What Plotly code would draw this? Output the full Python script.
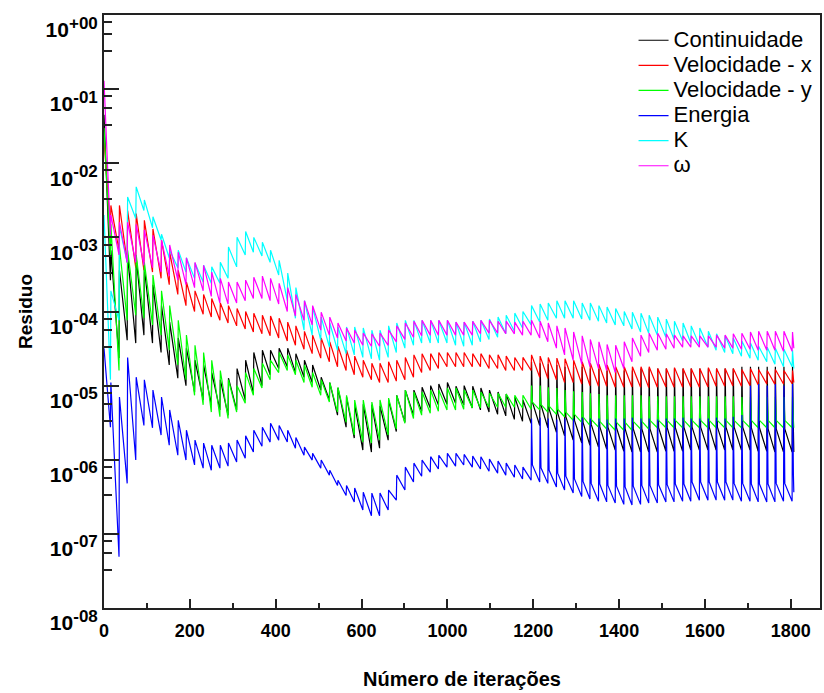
import plotly.graph_objects as go

# ---------------- data ----------------
# iteration at which each pseudo time-step starts (residual jump)
CYCLE_START = [16, 36, 55, 75, 94, 114, 134, 153, 173, 192,
               212, 232, 251, 271, 290, 310, 330, 349, 369, 388,
               408, 428, 447, 467, 486, 506, 526, 545, 565, 584,
               604, 624, 643, 663, 682, 702, 722, 741, 761, 780,
               800, 820, 839, 859, 878, 898, 918, 937, 957, 976,
               996, 1016, 1035, 1055, 1074, 1094, 1114, 1133, 1153, 1172,
               1192, 1212, 1231, 1251, 1270, 1290, 1310, 1329, 1349, 1368,
               1388, 1408, 1427, 1447, 1466, 1486, 1506, 1525, 1545, 1564,
               1584, 1604]
LATE_FROM = 50
END_ITER = 1607

# Continuidade
cont_start = [4.5e-2, 2.65e-4]
cont_peak = [6.7e-4, 3.6e-4, 5.8e-4, 5.3e-4, 3.9e-4, 2.3e-4, 1.2e-4, 7.2e-5, 4.4e-5, 3.2e-5,
             2.2e-5, 1.9e-5, 1.5e-5, 1.2e-5, 1.26e-5, 1.7e-5, 2.2e-5, 2.8e-5, 3.0e-5, 3.0e-5,
             3.2e-5, 3.2e-5, 2.7e-5, 2.2e-5, 1.9e-5, 1.3e-5, 1.1e-5, 9.3e-6, 7.0e-6, 5.5e-6,
             5.6e-6, 5.5e-6, 5.3e-6, 6.4e-6, 7.4e-6, 8.7e-6, 8.7e-6, 9.5e-6, 1.0e-5, 1.05e-5,
             1.1e-5, 9.8e-6, 1.0e-5, 9.8e-6, 9.3e-6, 8.7e-6, 8.2e-6, 7.7e-6, 7.0e-6, 6.4e-6,
             2.1e-5, 2.0e-5, 1.95e-5, 1.9e-5, 1.8e-5, 1.8e-5, 1.8e-5, 1.7e-5, 1.7e-5, 1.6e-5,
             1.6e-5, 1.6e-5, 1.6e-5, 1.7e-5, 1.7e-5, 1.7e-5, 1.7e-5, 1.7e-5, 1.7e-5, 1.7e-5,
             1.7e-5, 1.7e-5, 1.7e-5, 1.7e-5, 1.7e-5, 1.8e-5, 1.8e-5, 1.8e-5, 1.8e-5, 1.8e-5,
             1.8e-5, 1.8e-5]
cont_trough = [2.35e-5, 4.1e-5, 3.75e-5, 4.8e-5, 3.75e-5, 2.8e-5, 1.9e-5, 1.26e-5, 1.0e-5, 8.2e-6,
               6.4e-6, 5.5e-6, 4.7e-6, 4.0e-6, 4.7e-6, 6.4e-6, 7.9e-6, 1.0e-5, 1.4e-5, 1.7e-5,
               1.8e-5, 1.5e-5, 1.3e-5, 1.1e-5, 8.7e-6, 6.4e-6, 4.0e-6, 2.75e-6, 1.96e-6, 1.35e-6,
               1.27e-6, 1.43e-6, 1.84e-6, 2.4e-6, 3.2e-6, 4.0e-6, 4.5e-6, 5.0e-6, 5.5e-6, 5.6e-6,
               5.8e-6, 5.5e-6, 5.0e-6, 4.7e-6, 4.4e-6, 4.1e-6, 3.9e-6, 3.5e-6, 3.3e-6, 3.1e-6,
               2.9e-6, 2.7e-6, 2.35e-6, 2.1e-6, 1.84e-6, 1.68e-6, 1.57e-6, 1.48e-6, 1.39e-6, 1.35e-6,
               1.3e-6, 1.27e-6, 1.27e-6, 1.27e-6, 1.27e-6, 1.3e-6, 1.3e-6, 1.3e-6, 1.35e-6, 1.35e-6,
               1.35e-6, 1.35e-6, 1.35e-6, 1.35e-6, 1.35e-6, 1.35e-6, 1.3e-6, 1.3e-6, 1.27e-6, 1.27e-6,
               1.27e-6, 1.27e-6]
cont_drop = [6.0e-6, 5.5e-6, 4.8e-6, 4.25e-6, 3.8e-6, 3.4e-6, 3.2e-6, 3.0e-6, 2.8e-6, 2.75e-6,
             2.7e-6, 2.6e-6, 2.6e-6, 2.6e-6, 2.6e-6, 2.7e-6, 2.7e-6, 2.7e-6, 2.75e-6, 2.75e-6,
             2.75e-6, 2.75e-6, 2.75e-6, 2.75e-6, 2.75e-6, 2.75e-6, 2.7e-6, 2.7e-6, 2.6e-6, 2.6e-6,
             2.6e-6, 2.6e-6]

# Velocidade - x
velx_start = [2.1e-2, 1.26e-3]
velx_peak = [2.7e-3, 2.7e-3, 2.3e-3, 2.1e-3, 1.7e-3, 1.3e-3, 9.2e-4, 6.3e-4, 3.6e-4, 2.5e-4,
             1.9e-4, 1.7e-4, 1.5e-4, 1.3e-4, 1.2e-4, 1.1e-4, 1.0e-4, 9.5e-5, 8.9e-5, 8.7e-5,
             8.1e-5, 7.2e-5, 6.4e-5, 5.4e-5, 4.8e-5, 4.4e-5, 3.9e-5, 3.4e-5, 3.0e-5, 2.5e-5,
             2.2e-5, 2.0e-5, 2.0e-5, 2.1e-5, 2.2e-5, 2.4e-5, 2.6e-5, 2.7e-5, 2.7e-5, 2.8e-5,
             2.8e-5, 2.8e-5, 2.8e-5, 2.7e-5, 2.7e-5, 2.6e-5, 2.6e-5, 2.5e-5, 2.4e-5, 2.4e-5,
             2.6e-5, 2.5e-5, 2.4e-5, 2.35e-5, 2.3e-5, 2.2e-5, 2.1e-5, 2.0e-5, 1.95e-5, 1.9e-5,
             1.8e-5, 1.8e-5, 1.8e-5, 1.8e-5, 1.8e-5, 1.7e-5, 1.7e-5, 1.75e-5, 1.7e-5, 1.7e-5,
             1.7e-5, 1.75e-5, 1.7e-5, 1.7e-5, 1.7e-5, 1.65e-5, 1.7e-5, 1.65e-5, 1.6e-5, 1.65e-5,
             1.6e-5, 1.6e-5]
velx_trough = [6.7e-4, 4.6e-4, 3.9e-4, 3.6e-4, 3.4e-4, 2.8e-4, 2.3e-4, 1.7e-4, 1.2e-4, 1.0e-4,
               9.2e-5, 8.4e-5, 7.6e-5, 7.0e-5, 6.4e-5, 5.8e-5, 5.3e-5, 5.0e-5, 4.7e-5, 4.4e-5,
               4.0e-5, 3.5e-5, 3.1e-5, 2.7e-5, 2.35e-5, 2.1e-5, 1.8e-5, 1.6e-5, 1.4e-5, 1.3e-5,
               1.2e-5, 1.1e-5, 1.1e-5, 1.15e-5, 1.2e-5, 1.3e-5, 1.5e-5, 1.6e-5, 1.7e-5, 1.8e-5,
               1.8e-5, 1.8e-5, 1.8e-5, 1.8e-5, 1.7e-5, 1.7e-5, 1.6e-5, 1.6e-5, 1.6e-5, 1.6e-5,
               1.3e-5, 1.25e-5, 1.2e-5, 1.1e-5, 1.1e-5, 1.05e-5, 1.0e-5, 9.8e-6, 9.8e-6, 9.5e-6,
               9.5e-6, 9.6e-6, 9.5e-6, 9.4e-6, 9.5e-6, 9.6e-6, 9.5e-6, 9.5e-6, 9.6e-6, 9.5e-6,
               9.6e-6, 9.8e-6, 9.8e-6, 9.9e-6, 9.8e-6, 1.0e-5, 1.02e-5, 1.05e-5, 1.04e-5, 1.05e-5,
               1.06e-5, 1.1e-5]

# Velocidade - y
vely_start = [3.0e-2, 5.8e-4]
vely_peak = [1.5e-3, 7.4e-4, 6.7e-4, 5.8e-4, 4.6e-4, 3.1e-4, 1.9e-4, 1.2e-4, 7.6e-5, 4.8e-5,
             3.5e-5, 2.8e-5, 2.2e-5, 1.6e-5, 1.2e-5, 1.0e-5, 1.5e-5, 1.7e-5, 2.0e-5, 2.2e-5,
             2.8e-5, 2.6e-5, 2.2e-5, 1.9e-5, 1.5e-5, 1.2e-5, 1.1e-5, 9.5e-6, 7.4e-6, 6.4e-6,
             6.4e-6, 6.0e-6, 6.4e-6, 6.8e-6, 7.4e-6, 8.7e-6, 8.2e-6, 8.2e-6, 8.7e-6, 8.7e-6,
             9.3e-6, 9.3e-6, 8.7e-6, 8.7e-6, 8.2e-6, 7.9e-6, 7.9e-6, 7.7e-6, 7.4e-6, 7.4e-6,
             1.0e-5, 1.0e-5, 9.5e-6, 9.3e-6, 8.7e-6, 8.4e-6, 8.2e-6, 7.9e-6, 7.7e-6, 7.4e-6,
             7.4e-6, 7.4e-6, 7.4e-6, 7.4e-6, 7.2e-6, 7.2e-6, 7.2e-6, 7.2e-6, 7.2e-6, 7.2e-6,
             7.2e-6, 7.2e-6, 7.2e-6, 7.2e-6, 7.2e-6, 7.0e-6, 7.0e-6, 7.0e-6, 7.0e-6, 7.0e-6,
             7.0e-6, 7.0e-6]
vely_trough = [1.6e-5, 7.6e-5, 8.9e-5, 8.1e-5, 6.6e-5, 4.8e-5, 3.0e-5, 1.9e-5, 1.2e-5, 7.4e-6,
               5.5e-6, 4.4e-6, 3.8e-6, 3.6e-6, 4.4e-6, 5.8e-6, 7.4e-6, 9.3e-6, 1.2e-5, 1.5e-5,
               1.6e-5, 1.4e-5, 1.1e-5, 9.5e-6, 7.4e-6, 6.0e-6, 4.4e-6, 3.2e-6, 2.15e-6, 1.73e-6,
               1.68e-6, 1.84e-6, 2.15e-6, 2.6e-6, 3.1e-6, 3.6e-6, 4.0e-6, 4.25e-6, 4.5e-6, 4.7e-6,
               4.7e-6, 4.8e-6, 5.0e-6, 5.0e-6, 5.1e-6, 5.1e-6, 5.1e-6, 5.1e-6, 5.0e-6, 4.8e-6,
               4.7e-6, 4.4e-6, 4.1e-6, 3.8e-6, 3.4e-6, 3.2e-6, 2.9e-6, 2.75e-6, 2.6e-6, 2.5e-6,
               2.5e-6, 2.5e-6, 2.6e-6, 2.6e-6, 2.7e-6, 2.7e-6, 2.7e-6, 2.7e-6, 2.7e-6, 2.7e-6,
               2.7e-6, 2.7e-6, 2.7e-6, 2.7e-6, 2.7e-6, 2.7e-6, 2.7e-6, 2.7e-6, 2.7e-6, 2.7e-6,
               2.7e-6, 2.7e-6]
vely_drop = [6.0e-6, 5.6e-6, 5.3e-6, 4.8e-6, 4.4e-6, 4.1e-6, 3.8e-6, 3.5e-6, 3.3e-6, 3.2e-6,
             3.2e-6, 3.2e-6, 3.3e-6, 3.3e-6, 3.4e-6, 3.4e-6, 3.4e-6, 3.4e-6, 3.4e-6, 3.4e-6,
             3.4e-6, 3.4e-6, 3.4e-6, 3.4e-6, 3.4e-6, 3.4e-6, 3.4e-6, 3.4e-6, 3.4e-6, 3.4e-6,
             3.4e-6, 3.4e-6]

# Energia
ener_start = [3.2e-5, 2.75e-6]
ener_peak = [1.1e-5, 7.0e-6, 2.4e-5, 1.3e-5, 1.2e-5, 8.7e-6, 7.0e-6, 4.7e-6, 3.4e-6, 2.5e-6,
             1.84e-6, 1.68e-6, 1.57e-6, 1.57e-6, 1.68e-6, 1.84e-6, 2.1e-6, 2.5e-6, 2.75e-6, 3.1e-6,
             2.9e-6, 2.5e-6, 2.0e-6, 1.48e-6, 1.22e-6, 9.9e-7, 7.2e-7, 5.3e-7, 4.5e-7, 4.15e-7,
             3.65e-7, 3.55e-7, 3.55e-7, 3.9e-7, 6.2e-7, 7.95e-7, 9.0e-7, 9.9e-7, 1.1e-6, 1.15e-6,
             1.22e-6, 1.22e-6, 1.18e-6, 1.12e-6, 1.1e-6, 1.02e-6, 9.6e-7, 9.0e-7, 8.5e-7, 7.95e-7,
             3.6e-6, 3.7e-6, 3.6e-6, 3.5e-6, 3.6e-6, 3.6e-6, 3.7e-6, 3.6e-6, 3.6e-6, 3.5e-6,
             3.6e-6, 3.6e-6, 3.7e-6, 3.6e-6, 3.6e-6, 3.5e-6, 3.6e-6, 3.6e-6, 3.7e-6, 3.6e-6,
             3.6e-6, 3.6e-6, 3.7e-6, 3.6e-6, 3.8e-6, 4.0e-6, 1.0e-5, 1.05e-5, 1.0e-5, 1.05e-5,
             1.0e-5, 1.05e-5]
ener_trough = [4.9e-8, 4.8e-7, 9.9e-7, 2.9e-6, 2.7e-6, 2.15e-6, 1.57e-6, 1.15e-6, 9.9e-7, 8.5e-7,
               7.7e-7, 7.2e-7, 7.7e-7, 8.2e-7, 9.3e-7, 1.05e-6, 1.27e-6, 1.52e-6, 1.73e-6, 1.84e-6,
               1.73e-6, 1.43e-6, 1.15e-6, 9.9e-7, 7.7e-7, 6.2e-7, 4.5e-7, 3.3e-7, 2.7e-7, 2.1e-7,
               1.75e-7, 1.75e-7, 2.1e-7, 2.85e-7, 3.9e-7, 5.0e-7, 6.0e-7, 6.8e-7, 7.5e-7, 7.95e-7,
               8.2e-7, 8.5e-7, 7.95e-7, 7.5e-7, 7.0e-7, 6.6e-7, 6.2e-7, 5.8e-7, 5.5e-7, 5.3e-7,
               5.0e-7, 4.8e-7, 4.3e-7, 3.9e-7, 3.55e-7, 3.2e-7, 2.95e-7, 2.75e-7, 2.7e-7, 2.6e-7,
               2.5e-7, 2.45e-7, 2.5e-7, 2.6e-7, 2.6e-7, 2.7e-7, 2.7e-7, 2.75e-7, 2.75e-7, 2.85e-7,
               2.85e-7, 2.85e-7, 2.85e-7, 2.85e-7, 2.75e-7, 2.75e-7, 2.7e-7, 2.7e-7, 2.7e-7, 2.75e-7,
               2.75e-7, 3.65e-7]
ener_drop = [8.5e-7, 7.8e-7, 7.2e-7, 6.6e-7, 6.0e-7, 5.5e-7, 5.1e-7, 4.8e-7, 4.7e-7, 4.5e-7,
             4.4e-7, 4.3e-7, 4.4e-7, 4.5e-7, 4.5e-7, 4.6e-7, 4.6e-7, 4.7e-7, 4.7e-7, 5.0e-7,
             5.0e-7, 5.0e-7, 5.0e-7, 5.0e-7, 4.8e-7, 4.8e-7, 4.7e-7, 4.7e-7, 4.7e-7, 4.8e-7,
             4.8e-7, 6.4e-7]

# K
k_start = [2.0e-3, 1.2e-5]
k_peak = [1.9e-4, 1.4e-3, 3.5e-3, 4.8e-3, 3.2e-3, 1.9e-3, 1.1e-3, 6.7e-4, 6.7e-4, 5.3e-4,
          4.5e-4, 4.2e-4, 4.0e-4, 4.6e-4, 7.4e-4, 1.0e-3, 1.2e-3, 1.0e-3, 8.6e-4, 6.7e-4,
          4.9e-4, 3.3e-4, 2.1e-4, 1.4e-4, 1.15e-4, 8.4e-5, 7.0e-5, 6.2e-5, 6.2e-5, 6.2e-5,
          6.0e-5, 5.6e-5, 5.6e-5, 6.4e-5, 7.0e-5, 7.6e-5, 7.6e-5, 7.6e-5, 7.6e-5, 7.6e-5,
          7.6e-5, 7.2e-5, 7.2e-5, 7.4e-5, 7.6e-5, 7.9e-5, 8.4e-5, 8.9e-5, 9.5e-5, 1.0e-4,
          1.2e-4, 1.26e-4, 1.3e-4, 1.4e-4, 1.4e-4, 1.4e-4, 1.3e-4, 1.3e-4, 1.2e-4, 1.15e-4,
          1.1e-4, 1.0e-4, 9.8e-5, 9.5e-5, 8.9e-5, 8.4e-5, 7.9e-5, 7.4e-5, 7.0e-5, 6.4e-5,
          6.0e-5, 5.4e-5, 5.0e-5, 4.7e-5, 4.4e-5, 4.0e-5, 3.75e-5, 3.4e-5, 3.3e-5, 3.2e-5,
          3.1e-5, 3.0e-5]
k_trough = [7.6e-5, 4.6e-4, 1.8e-3, 2.3e-3, 1.35e-3, 9.2e-4, 5.3e-4, 3.9e-4, 3.4e-4, 2.8e-4,
            2.5e-4, 2.4e-4, 2.4e-4, 2.8e-4, 4.0e-4, 5.8e-4, 6.3e-4, 5.6e-4, 4.6e-4, 3.1e-4,
            1.4e-4, 8.1e-5, 5.6e-5, 4.8e-5, 4.1e-5, 3.3e-5, 3.0e-5, 2.7e-5, 2.6e-5, 2.4e-5,
            2.3e-5, 2.2e-5, 2.4e-5, 2.8e-5, 3.2e-5, 3.5e-5, 3.75e-5, 3.75e-5, 3.75e-5, 3.75e-5,
            3.5e-5, 3.4e-5, 3.5e-5, 3.9e-5, 4.2e-5, 4.5e-5, 5.0e-5, 5.4e-5, 6.0e-5, 6.6e-5,
            7.2e-5, 7.6e-5, 8.1e-5, 8.1e-5, 8.1e-5, 7.9e-5, 7.6e-5, 7.4e-5, 7.0e-5, 6.6e-5,
            6.4e-5, 5.8e-5, 5.3e-5, 5.1e-5, 4.8e-5, 4.5e-5, 4.2e-5, 4.0e-5, 3.75e-5, 3.5e-5,
            3.3e-5, 3.0e-5, 2.8e-5, 2.7e-5, 2.5e-5, 2.35e-5, 2.2e-5, 2.1e-5, 1.95e-5, 1.8e-5,
            1.8e-5, 1.7e-5]

# omega
w_start = [1.3e-1, 1.07e-3]
w_peak = [2.0e-3, 1.6e-3, 1.6e-3, 1.5e-3, 1.26e-3, 1.07e-3, 9.2e-4, 7.9e-4, 6.3e-4, 5.3e-4,
          4.6e-4, 4.2e-4, 3.4e-4, 2.8e-4, 2.5e-4, 2.5e-4, 2.65e-4, 2.9e-4, 3.0e-4, 2.8e-4,
          2.4e-4, 2.1e-4, 1.7e-4, 1.4e-4, 1.2e-4, 9.8e-5, 8.4e-5, 7.0e-5, 6.0e-5, 5.6e-5,
          5.1e-5, 5.0e-5, 5.1e-5, 5.6e-5, 6.4e-5, 7.0e-5, 7.4e-5, 7.6e-5, 7.6e-5, 7.6e-5,
          7.6e-5, 7.2e-5, 7.2e-5, 7.4e-5, 7.6e-5, 7.6e-5, 7.4e-5, 7.4e-5, 7.2e-5, 7.4e-5,
          7.6e-5, 7.4e-5, 7.0e-5, 6.4e-5, 6.0e-5, 5.3e-5, 4.7e-5, 4.2e-5, 3.9e-5, 3.6e-5,
          3.5e-5, 3.9e-5, 4.4e-5, 4.8e-5, 5.1e-5, 5.1e-5, 5.0e-5, 4.8e-5, 4.7e-5, 4.7e-5,
          4.7e-5, 4.7e-5, 4.8e-5, 4.8e-5, 5.0e-5, 5.1e-5, 5.3e-5, 5.4e-5, 5.4e-5, 5.4e-5,
          5.4e-5, 5.3e-5]
w_trough = [5.8e-4, 4.6e-4, 4.6e-4, 4.2e-4, 3.9e-4, 3.4e-4, 3.0e-4, 2.65e-4, 2.3e-4, 2.1e-4,
            1.9e-4, 1.6e-4, 1.3e-4, 1.26e-4, 1.3e-4, 1.4e-4, 1.5e-4, 1.5e-4, 1.4e-4, 1.26e-4,
            1.0e-4, 8.7e-5, 7.6e-5, 6.6e-5, 5.6e-5, 4.8e-5, 4.4e-5, 4.0e-5, 3.75e-5, 3.5e-5,
            3.4e-5, 3.4e-5, 3.5e-5, 3.9e-5, 4.2e-5, 4.5e-5, 4.7e-5, 4.8e-5, 4.8e-5, 4.8e-5,
            4.8e-5, 4.8e-5, 4.8e-5, 5.0e-5, 5.1e-5, 5.1e-5, 5.0e-5, 5.0e-5, 4.8e-5, 4.8e-5,
            4.4e-5, 3.9e-5, 3.2e-5, 2.6e-5, 2.2e-5, 1.95e-5, 1.8e-5, 1.7e-5, 1.6e-5, 1.5e-5,
            1.7e-5, 2.1e-5, 2.5e-5, 2.8e-5, 3.0e-5, 3.1e-5, 3.2e-5, 3.3e-5, 3.3e-5, 3.3e-5,
            3.3e-5, 3.3e-5, 3.2e-5, 3.2e-5, 3.1e-5, 3.1e-5, 3.0e-5, 3.0e-5, 3.0e-5, 2.9e-5,
            2.9e-5, 3.2e-5]

SERIES_NAMES = ["Continuidade", "Velocidade - x", "Velocidade - y", "Energia", "K", "\u03c9"]
SERIES_COLORS = ["#000000", "#ff0000", "#00ff00", "#0000ff", "#00ffff", "#ff00ff"]

X_TICK_POS = [0, 200, 400, 600, 800, 1000, 1200, 1400, 1600]
X_TICK_TEXT = ["0", "200", "400", "600", "1000", "1200", "1400", "1600", "1800"]
X_MINOR_POS = [100, 300, 500, 700, 900, 1100, 1300, 1500]
Y_TICK_VALS = [1e0, 1e-1, 1e-2, 1e-3, 1e-4, 1e-5, 1e-6, 1e-7, 1e-8]
Y_TICK_EXP = ["+00", "-01", "-02", "-03", "-04", "-05", "-06", "-07", "-08"]
Y_MINOR_FACTORS = [0.8, 0.56, 0.33]


def series_xy(start, peak, trough, drop=None):
    xs = [0, CYCLE_START[0] - 1]
    ys = list(start)
    n = len(CYCLE_START)
    for k, c in enumerate(CYCLE_START):
        xs.append(c)
        ys.append(peak[k])
        if drop is not None and k >= LATE_FROM:
            xs.append(c + 2)
            ys.append(drop[k - LATE_FROM])
        xs.append(CYCLE_START[k + 1] - 1 if k + 1 < n else END_ITER)
        ys.append(trough[k])
    return xs, ys


series = [
    (cont_start, cont_peak, cont_trough, cont_drop),
    (velx_start, velx_peak, velx_trough, None),
    (vely_start, vely_peak, vely_trough, vely_drop),
    (ener_start, ener_peak, ener_trough, ener_drop),
    (k_start, k_peak, k_trough, None),
    (w_start, w_peak, w_trough, None),
]

FONT = "Liberation Sans, Arial, sans-serif"

fig = go.Figure()
for (st, pk, tr, dr), name, col in zip(series, SERIES_NAMES, SERIES_COLORS):
    xs, ys = series_xy(st, pk, tr, dr)
    fig.add_trace(go.Scatter(
        x=xs, y=ys, mode="lines", line=dict(color=col, width=1.2),
        name='<span style="font-size:22px">' + name + '</span>',
    ))

y_minor = [f * v for v in Y_TICK_VALS[:-1] for f in Y_MINOR_FACTORS]
y_tick_text = ['10<sup><span style="font-size:17px">' + e + '</span></sup>' for e in Y_TICK_EXP]

fig.update_layout(
    width=824, height=693,
    margin=dict(l=104, r=2, t=15, b=85),
    plot_bgcolor="white", paper_bgcolor="white",
    font=dict(family=FONT, color="black"),
    legend=dict(x=0.7396, y=0.987, xanchor="left", yanchor="top",
                bgcolor="rgba(0,0,0,0)", borderwidth=0,
                font=dict(family=FONT, size=17, color="black"),
                tracegroupgap=0),
    xaxis=dict(
        range=[0, 1668], tickmode="array", tickvals=X_TICK_POS, ticktext=X_TICK_TEXT,
        ticks="inside", ticklen=9, tickwidth=2, tickcolor="#222",
        showline=True, linecolor="#222", linewidth=2, mirror=True,
        showgrid=False, zeroline=False,
        tickfont=dict(family=FONT, size=18, color="black", weight="bold"),
        ticklabelstandoff=5,
        minor=dict(tickmode="array", tickvals=X_MINOR_POS, ticks="inside",
                   ticklen=5, tickwidth=2, tickcolor="#222", showgrid=False),
        title=dict(text="Número de iterações",
                   font=dict(family=FONT, size=20, color="black", weight="bold"),
                   standoff=32),
    ),
    yaxis=dict(
        type="log", range=[-8, 0], tickmode="array", tickvals=Y_TICK_VALS, ticktext=y_tick_text,
        ticks="inside", ticklen=15, tickwidth=2, tickcolor="#222",
        showline=True, linecolor="#222", linewidth=2, mirror=True,
        showgrid=False, zeroline=False,
        tickfont=dict(family=FONT, size=21, color="black", weight="bold"),
        ticklabelshift=15, ticklabeloverflow="allow",
        minor=dict(tickmode="array", tickvals=y_minor, ticks="inside",
                   ticklen=8, tickwidth=2, tickcolor="#222", showgrid=False),
        title=dict(text="Residuo",
                   font=dict(family=FONT, size=19, color="black", weight="bold"),
                   standoff=8),
    ),
)

fig.write_html("out.html")
